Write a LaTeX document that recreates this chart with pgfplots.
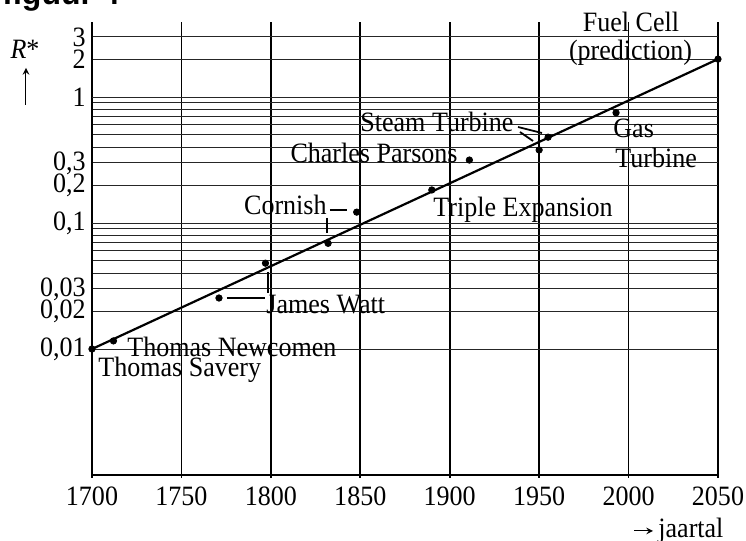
\documentclass[border=0pt]{standalone}
\usepackage{fontspec}
\setmainfont{Liberation Serif}[FakeStretch=0.93]
\newfontfamily\titlefont{Liberation Sans}
\usepackage{pgfplots}
\pgfplotsset{compat=1.18}

\begin{document}
\begin{tikzpicture}[font=\fontsize{14}{16}\selectfont]
\begin{axis}[
    at={(0pt,0pt)}, anchor=south west,
    scale only axis, width=313pt, height=226.5pt,
    ymode=log,
    xmin=1700, xmax=2050, ymin=0.001, ymax=3.94,
    axis x line=bottom, axis y line=left,
    axis line style={-, line width=0.9pt},
    clip=false,
    xtick={1700,1750,1800,1850,1900,1950,2000,2050},
    xticklabels={1700,1750,1800,1850,1900,1950,2000,2050},
    ytick={0.01,0.02,0.03,0.1,0.2,0.3,1,2,3},
    yticklabels={{0,01},{0,02},{0,03},{0,1},{0,2},{0,3},1,2,3},
    minor ytick={0.04,0.05,0.06,0.07,0.08,0.09,0.4,0.5,0.6,0.7,0.8,0.9},
    extra y ticks={0.01,0.1,1},
    extra y tick labels={},
    extra y tick style={grid=major, major grid style={line width=1.1pt, black}},
    xmajorgrids, ymajorgrids, yminorgrids,
    x grid style={line width=0.8pt, black},
    y grid style={line width=0.5pt, black!85},
    minor grid style={line width=0.5pt, black!85},
    tick align=outside,
    major tick length=1.5pt,
    xtick style={line width=0.8pt, black},
    ytick style={draw=none},
    every tick label/.append style={font=\fontsize{14}{16}\selectfont},
    yticklabel style={inner sep=1.5pt},
    xticklabel style={yshift=-1pt},
]
% measured points
\addplot[only marks, mark=*, mark size=1.6pt, black] coordinates {
    (1700,0.01) (1712,0.0116) (1771,0.0254) (1797,0.048)
    (1832,0.069) (1848,0.122) (1890,0.183) (1911,0.316)
    (1950,0.38) (1955,0.48) (1993,0.75) (2050,2)
};
% trend line
\addplot[black, line width=1.1pt] coordinates {(1700,0.01) (2050,2)};
\end{axis}

% labels
\node[anchor=base west, inner sep=0pt] at (17.5pt,59pt) {Thomas Newcomen};
\node[anchor=base west, inner sep=0pt] at (3pt,49pt) {Thomas Savery};
\node[anchor=base west, inner sep=0pt] at (87pt,80.5pt) {James Watt};
\node[anchor=base east, inner sep=0pt] at (117.5pt,130pt) {Cornish};
\node[anchor=base west, inner sep=0pt] at (170.5pt,129pt) {Triple Expansion};
\node[anchor=base east, inner sep=0pt] at (183pt,156pt) {Charles Parsons};
\node[anchor=base west, inner sep=0pt] at (134pt,171.5pt) {Steam Turbine};
\node[anchor=base west, inner sep=0pt] at (260.5pt,168.5pt) {Gas};
\node[anchor=base west, inner sep=0pt] at (261.5pt,153.5pt) {Turbine};
\node[anchor=base, inner sep=0pt] at (269.5pt,221.5pt) {Fuel Cell};
\node[anchor=base, inner sep=0pt] at (269.25pt,207.5pt) {(prediction)};

% leader lines
\draw[line width=1pt] (67.5pt,88.5pt) -- (86.5pt,88.5pt);
\draw[line width=1pt] (88pt,101.5pt) -- (88pt,91pt);
\draw[line width=1pt] (119pt,132.5pt) -- (127.5pt,132.5pt);
\draw[line width=1pt] (117.5pt,128.5pt) -- (117.5pt,121pt);
\draw[line width=0.9pt] (213pt,174pt) -- (225pt,171pt);
\draw[line width=0.9pt] (214pt,171.5pt) -- (220.5pt,167pt);

% axis names
\node[anchor=center, inner sep=0pt] at (-33.5pt,213pt) {\textit{R}*};
\draw[-stealth, line width=0.5pt] (-33pt,185pt) -- (-33pt,203.5pt);
\draw[-stealth, line width=0.5pt] (271pt,-28pt) -- (280.5pt,-28pt);
\node[anchor=west, inner sep=0pt] at (283pt,-28pt) {jaartal};

% title, cut at the top edge as in the source
\node[anchor=base west, inner sep=0pt, font=\titlefont\bfseries\fontsize{16}{18}\selectfont] at (-45pt,235pt) {figuur 4};

\pgfresetboundingbox
\useasboundingbox (-46pt,-33pt) rectangle (327pt,237.5pt);
\end{tikzpicture}
\end{document}
